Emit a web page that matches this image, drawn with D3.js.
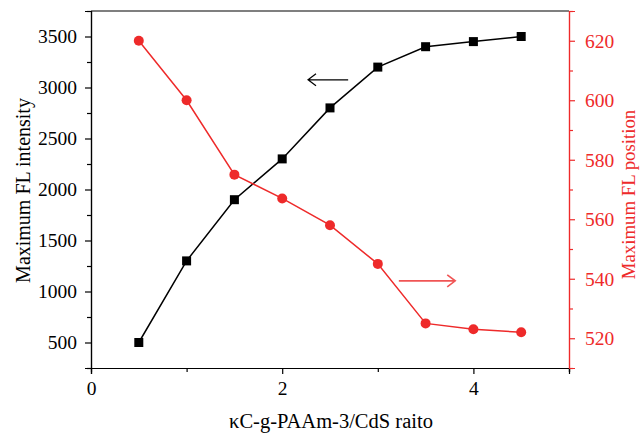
<!DOCTYPE html>
<html>
<head>
<meta charset="utf-8">
<script src="https://cdn.jsdelivr.net/npm/d3@7"></script>
<style>
  body { margin: 0; background: #fff; }
  text { font-family: "Liberation Serif", "DejaVu Serif", serif; }
</style>
</head>
<body>
<div id="my_dataviz"></div>
<script>
// data
var ratio = [0.5, 1, 1.5, 2, 2.5, 3, 3.5, 4, 4.5];
var intensity = [500, 1300, 1900, 2300, 2800, 3200, 3400, 3450, 3500];
var position = [620, 600, 575, 567, 558, 545, 525, 523, 522];

var xTicks = [0, 2, 4];
var leftTicks = [500, 1000, 1500, 2000, 2500, 3000, 3500];
var rightTicks = [520, 540, 560, 580, 600, 620];

var xTitle = "\u03BAC-g-PAAm-3/CdS raito";
var leftTitle = "Maximum FL intensity";
var rightTitle = "Maximum FL position";

// arrows (data coords): black points to left axis, red to right axis
var leftArrow = {from: 2.69, to: 2.27, y: 3075};
var rightArrow = {from: 3.22, to: 3.81, y: 539.3};

var red = "#ee2a2a";

// set the dimensions and margins of the graph
var margin = {top: 11, right: 73, bottom: 68, left: 91},
    width = 642 - margin.left - margin.right,
    height = 436 - margin.top - margin.bottom;

var svg = d3.select("#my_dataviz")
  .append("svg")
    .attr("width", width + margin.left + margin.right)
    .attr("height", height + margin.top + margin.bottom)
  .append("g")
    .attr("transform", "translate(" + margin.left + "," + margin.top + ")");

var x = d3.scaleLinear().domain([0, 5]).range([0, width]);
var yL = d3.scaleLinear().domain([250, 3750]).range([height, 0]);
var yR = d3.scaleLinear().domain([510, 630]).range([height, 0]);

// top frame line
svg.append("line")
  .attr("x1", 0).attr("x2", width)
  .attr("y1", 0).attr("y2", 0)
  .attr("stroke", "black").attr("stroke-width", 1.2);

function styleAxis(g, color, size) {
  g.attr("font-family", null);
  g.select(".domain").attr("stroke", color).attr("stroke-width", 1.2);
  g.selectAll(".tick line").attr("stroke", color).attr("stroke-width", 1.2);
  g.selectAll(".tick text")
    .attr("fill", color)
    .style("font-size", size + "px");
}

// minor ticks
svg.append("g")
  .attr("transform", "translate(0," + height + ")")
  .call(d3.axisBottom(x).tickValues([1, 3, 5]).tickSize(4).tickFormat(""))
  .call(function(g) { styleAxis(g, "black", 19); });
svg.append("g")
  .call(d3.axisLeft(yL).tickValues(d3.range(250, 3751, 500)).tickSize(4).tickFormat(""))
  .call(function(g) { styleAxis(g, "black", 19); });
svg.append("g")
  .attr("transform", "translate(" + width + ",0)")
  .call(d3.axisRight(yR).tickValues(d3.range(510, 631, 20)).tickSize(4).tickFormat(""))
  .call(function(g) { styleAxis(g, red, 19); });

// major ticks
svg.append("g")
  .attr("transform", "translate(0," + height + ")")
  .call(d3.axisBottom(x).tickValues(xTicks).tickSize(6).tickPadding(7).tickFormat(d3.format("d")))
  .call(function(g) { styleAxis(g, "black", 19.5); });
svg.append("g")
  .call(d3.axisLeft(yL).tickValues(leftTicks).tickSize(6).tickPadding(8).tickFormat(d3.format("d")))
  .call(function(g) { styleAxis(g, "black", 19.5); });
svg.append("g")
  .attr("transform", "translate(" + width + ",0)")
  .call(d3.axisRight(yR).tickValues(rightTicks).tickSize(6).tickPadding(10).tickFormat(d3.format("d")))
  .call(function(g) { styleAxis(g, red, 19.5); });

// axis titles
svg.append("text")
  .attr("x", width / 2 + 1)
  .attr("y", height + 60)
  .attr("text-anchor", "middle")
  .style("font-size", "20.5px")
  .text(xTitle);

svg.append("text")
  .attr("transform", "translate(" + (-61) + "," + (height / 2 + 1) + ") rotate(-90)")
  .attr("text-anchor", "middle")
  .style("font-size", "20px")
  .text(leftTitle);

svg.append("text")
  .attr("transform", "translate(" + (width + 66) + "," + (height / 2 + 5) + ") rotate(-90)")
  .attr("text-anchor", "middle")
  .attr("fill", red)
  .style("font-size", "18.8px")
  .text(rightTitle);

// intensity line + squares
var pts1 = ratio.map(function(d, i) { return {x: d, y: intensity[i]}; });
svg.append("path")
  .datum(pts1)
  .attr("fill", "none")
  .attr("stroke", "black")
  .attr("stroke-width", 1.5)
  .attr("d", d3.line()
    .x(function(d) { return x(d.x); })
    .y(function(d) { return yL(d.y); }));
svg.selectAll(".sq")
  .data(pts1)
  .enter().append("rect")
    .attr("x", function(d) { return x(d.x) - 4.5; })
    .attr("y", function(d) { return yL(d.y) - 4.5; })
    .attr("width", 9).attr("height", 9)
    .attr("fill", "black");

// position line + circles
var pts2 = ratio.map(function(d, i) { return {x: d, y: position[i]}; });
svg.append("path")
  .datum(pts2)
  .attr("fill", "none")
  .attr("stroke", red)
  .attr("stroke-width", 1.5)
  .attr("d", d3.line()
    .x(function(d) { return x(d.x); })
    .y(function(d) { return yR(d.y); }));
svg.selectAll(".dot")
  .data(pts2)
  .enter().append("circle")
    .attr("cx", function(d) { return x(d.x); })
    .attr("cy", function(d) { return yR(d.y); })
    .attr("r", 5)
    .attr("fill", red);

// arrows
function arrow(a, yScale, color, w) {
  var y0 = yScale(a.y), x0 = x(a.from), x1 = x(a.to);
  var dir = x1 < x0 ? 1 : -1;
  svg.append("path")
    .attr("fill", "none")
    .attr("stroke", color)
    .attr("stroke-width", w)
    .attr("d", "M" + x0 + "," + y0 + "L" + x1 + "," + y0 +
      "M" + (x1 + dir * 8) + "," + (y0 - 6) + "L" + x1 + "," + y0 + "L" + (x1 + dir * 8) + "," + (y0 + 6));
}
arrow(leftArrow, yL, "black", 1.2);
arrow(rightArrow, yR, "#f05555", 1.6);
</script>
</body>
</html>
